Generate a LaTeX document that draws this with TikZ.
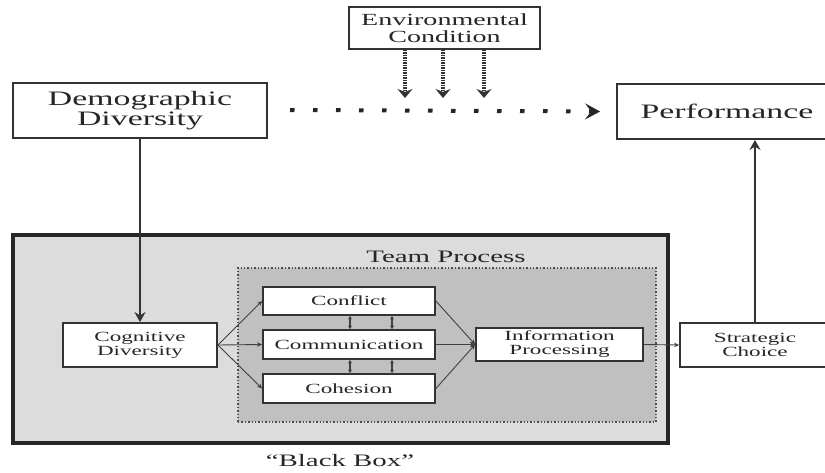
\documentclass[tikz,border=0pt]{standalone}
\usepackage{fontspec}
\setmainfont{Liberation Serif}[FakeStretch=1.65]
\usetikzlibrary{arrows.meta}
\definecolor{bbfill}{RGB}{220,220,220}
\definecolor{tpfill}{RGB}{192,192,192}
\begin{document}
\begin{tikzpicture}[x=1pt,y=-1pt,
  box/.style={draw=black!80, line width=1.8pt, fill=white, text=black!85, align=center, inner sep=0pt},
  big/.style={font=\fontsize{20.5}{20}\selectfont},
  mid/.style={font=\fontsize{17}{16.5}\selectfont},
  small/.style={font=\fontsize{14}{14}\selectfont},
  mainarrow/.style={draw=black!80, line width=1.8pt, -{Stealth[length=10pt,width=11pt]}},
  thinarrow/.style={draw=black!75, line width=0.9pt, -{Stealth[length=5pt,width=4.5pt]}},
  dbl/.style={draw=black!75, line width=1.1pt, {Stealth[length=3.5pt,width=4pt]}-{Stealth[length=3.5pt,width=4pt]}},
  envarrow/.style={draw=black!80, line width=3.5pt, dash pattern=on 1.3pt off 1.2pt, -{Stealth[length=9pt,width=15pt]}},
  dotline/.style={draw=black!85, line width=4pt, dash pattern=on 4.5pt off 18.5pt, -{Stealth[length=15pt,width=16pt,inset=6pt]}}
]
\useasboundingbox (0,0) rectangle (825,472);
\clip (0,0) rectangle (825,472);

% black box and team process frame
\node[draw=black!85, line width=3.2pt, fill=bbfill, minimum width=655pt, minimum height=208pt, inner sep=0pt] (blackbox) at (340.5,339) {};
\node[draw=black!70, dotted, line width=1.4pt, fill=tpfill, minimum width=418pt, minimum height=154pt, inner sep=0pt] (team) at (447,345) {};
\node[text=black!85, font=\fontsize{17.5}{17}\selectfont] (teamlbl) at (446,257) {Team Process};
\node[text=black!85, font=\fontsize{17.5}{17}\selectfont] (bblbl) at (340,461) {“Black Box”};

% top boxes
\node[box, mid, minimum width=191pt, minimum height=42pt] (env) at (444.5,28) {Environmental\\Condition};
\node[box, big, minimum width=254pt, minimum height=55pt] (demo) at (140,110.5) {Demographic\\Diversity};
\node[box, big, minimum width=220pt, minimum height=55pt] (perf) at (727,111.5) {Performance};

% process boxes
\node[box, small, minimum width=154pt, minimum height=44pt] (cog) at (140,345) {Cognitive\\Diversity};
\node[box, small, minimum width=172pt, minimum height=28pt] (conf) at (349,301) {Conflict};
\node[box, small, minimum width=172pt, minimum height=29pt] (comm) at (349,344.5) {Communication};
\node[box, small, minimum width=172pt, minimum height=29pt] (coh) at (349,388.5) {Cohesion};
\node[box, small, minimum width=167pt, minimum height=33pt] (info) at (559.5,344.5) {Information\\Processing};
\node[box, small, minimum width=150pt, minimum height=44pt] (strat) at (755,345) {Strategic\\Choice};

% connectors
\draw[mainarrow] (demo.south) -- (cog.north);
\draw[mainarrow] (strat.north) -- (strat.north |- perf.south);

\coordinate (dstart) at (290,110);
\draw[dotline] (dstart) -- ([xshift=-16pt]perf.west);

\coordinate (e1) at (405,98);
\coordinate (e2) at (443,98);
\coordinate (e3) at (484,98);
\draw[envarrow] (env.south -| e1) -- (e1);
\draw[envarrow] (env.south -| e2) -- (e2);
\draw[envarrow] (env.south -| e3) -- (e3);

\draw[thinarrow] (cog.east) -- (conf.west);
\draw[thinarrow] (cog.east) -- (comm.west);
\draw[thinarrow] (cog.east) -- (coh.west);
\draw[thinarrow] (conf.east) -- (info.west);
\draw[thinarrow] (comm.east) -- (info.west);
\draw[thinarrow] (coh.east) -- (info.west);
\draw[thinarrow] (info.east) -- (strat.west);

\coordinate (va) at (350,0);
\coordinate (vb) at (392,0);
\draw[dbl] (conf.south -| va) -- (comm.north -| va);
\draw[dbl] (conf.south -| vb) -- (comm.north -| vb);
\draw[dbl] (comm.south -| va) -- (coh.north -| va);
\draw[dbl] (comm.south -| vb) -- (coh.north -| vb);
\end{tikzpicture}
\end{document}
